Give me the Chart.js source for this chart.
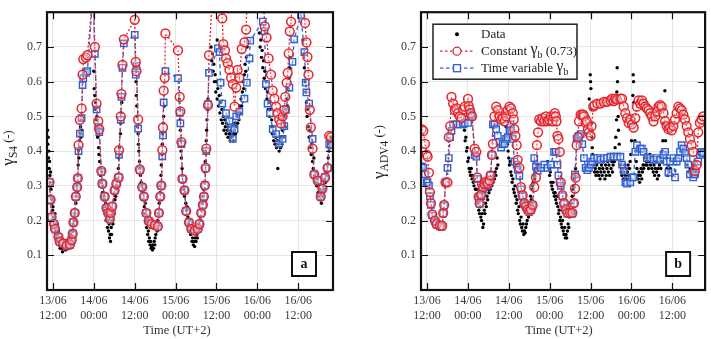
<!DOCTYPE html>
<html>
<head>
<meta charset="utf-8">
<script src="https://cdn.jsdelivr.net/npm/chart.js@4.4.1/dist/chart.umd.min.js"></script>
<style>
  body { margin: 0; background: #fff; }
  canvas { position: absolute; top: 0; }
  #ca { left: 0; }
  #cb { left: 355px; }
</style>
</head>
<body>
<canvas id="ca" width="350" height="339"></canvas>
<canvas id="cb" width="356" height="339"></canvas>
<script>
// hours counted from 13/06 00:00
const xTicks = [12, 24, 36, 48, 60, 72, 84];
const xTickLabels = [['13/06', '12:00'], ['14/06', '00:00'], ['14/06', '12:00'], ['15/06', '00:00'],
  ['15/06', '12:00'], ['16/06', '00:00'], ['16/06', '12:00']];
const yTicks = [0.1, 0.2, 0.3, 0.4, 0.5, 0.6, 0.7];

// panel a - measured gamma S4
const dataA = [
  [10.4,0.46],[10.5,0.42],[10.6,0.44],[10.7,0.38],[10.8,0.4],[10.9,0.35],[11.0,0.37],[11.1,0.33],[11.2,0.31],[11.3,0.34],
  [11.4,0.29],[11.5,0.27],[11.6,0.3],[11.7,0.25],[11.8,0.26],[11.9,0.23],[12.0,0.24],[12.1,0.21],
  [12.3,0.2],[12.5,0.18],[12.6,0.22],[12.8,0.17],[13.0,0.19],[13.1,0.15],[13.3,0.16],[13.5,0.14],[13.6,0.17],[13.8,0.13],
  [14.0,0.15],[14.1,0.12],[14.3,0.14],[14.5,0.12],[14.6,0.13],[14.8,0.11],[15.0,0.125],[15.2,0.14],[15.3,0.12],[15.5,0.13],
  [15.7,0.115],[15.9,0.14],[16.0,0.125],[16.2,0.13],[16.4,0.145],[16.5,0.12],[16.7,0.135],[16.9,0.15],[17.0,0.13],[17.2,0.16],
  [17.4,0.14],[17.5,0.17],[17.7,0.155],[17.9,0.19],[18.0,0.17],[18.2,0.2],[18.4,0.22],[18.5,0.2],[18.7,0.25],[18.8,0.27],
  [19.0,0.3],[19.1,0.28],[19.3,0.33],[19.4,0.36],[19.5,0.4],[19.6,0.38],[19.8,0.43],[19.9,0.41],[20.0,0.45],[20.1,0.47],
  [20.2,0.44],[20.4,0.49],[20.5,0.46],
  [24.0,0.63],[24.1,0.58],[24.3,0.56],[24.4,0.52],[24.5,0.54],[24.7,0.49],[24.8,0.47],[24.9,0.5],[25.1,0.44],[25.2,0.46],
  [25.4,0.41],[25.5,0.39],[25.7,0.37],[25.9,0.35],[26.0,0.33],[26.2,0.31],[26.3,0.34],
  [26.5,0.28],[26.6,0.3],[26.8,0.26],[27.0,0.27],[27.1,0.24],[27.3,0.22],[27.5,0.25],[27.6,0.2],[27.8,0.21],[28.0,0.18],
  [28.1,0.2],[28.3,0.17],[28.5,0.19],[28.6,0.15],[28.8,0.16],[28.9,0.14],[29.1,0.18],[29.2,0.16],[29.4,0.2],[29.6,0.19],
  [29.8,0.23],[30.0,0.22],[30.2,0.26],[30.4,0.27],[30.6,0.29],[30.8,0.3],[31.0,0.32],
  [31.2,0.35],[31.3,0.38],[31.5,0.41],[31.6,0.39],[31.8,0.45],[31.9,0.48],[32.0,0.51],[32.2,0.54],
  [36.4,0.6],[36.5,0.56],[36.6,0.53],[36.7,0.5],[36.8,0.47],[37.0,0.45],[37.1,0.42],[37.2,0.4],[37.4,0.37],[37.5,0.35],
  [37.7,0.33],[37.9,0.31],
  [38.1,0.3],[38.3,0.28],[38.5,0.26],[38.6,0.29],[38.8,0.24],[39.0,0.22],[39.1,0.25],[39.3,0.2],[39.5,0.18],[39.6,0.21],
  [39.8,0.16],[40.0,0.17],[40.1,0.14],[40.3,0.15],[40.5,0.13],[40.7,0.14],[40.8,0.12],[41.0,0.125],[41.2,0.115],[41.3,0.13],
  [41.5,0.12],[41.7,0.14],[41.9,0.13],[42.0,0.15],[42.2,0.16],[42.4,0.18],[42.6,0.17],[42.8,0.2],[43.0,0.22],[43.2,0.25],
  [43.4,0.28],[43.5,0.3],
  [43.7,0.33],[43.8,0.36],[44.0,0.39],[44.1,0.42],[44.2,0.45],[44.4,0.48],[44.5,0.5],[44.7,0.53],
  [49.1,0.55],[49.2,0.52],[49.3,0.49],[49.4,0.46],[49.5,0.43],[49.6,0.4],[49.7,0.38],[49.9,0.35],[50.0,0.33],
  [50.2,0.31],[50.4,0.29],[50.6,0.27],[50.8,0.28],[51.0,0.25],[51.2,0.23],[51.4,0.24],[51.6,0.21],[51.8,0.19],[52.0,0.2],
  [52.2,0.17],[52.4,0.16],[52.6,0.18],[52.8,0.14],[53.0,0.15],[53.2,0.13],[53.4,0.14],[53.6,0.125],[53.8,0.15],[54.0,0.14],
  [54.2,0.16],[54.4,0.15],[54.6,0.17],[54.8,0.19],[55.0,0.18],[55.2,0.21],[55.4,0.2],[55.6,0.23],[55.8,0.25],[56.0,0.27],
  [56.2,0.29],[56.4,0.31],
  [56.6,0.34],[56.7,0.37],[56.8,0.4],[57.0,0.43],[57.1,0.46],[57.2,0.49],[57.4,0.52],[57.5,0.55],
  [58.4,0.7],[58.6,0.66],[58.8,0.68],[59.0,0.63],[59.2,0.65],[59.4,0.6],[59.6,0.62],[59.8,0.57],[60.0,0.6],[60.2,0.55],
  [60.2,0.72],[60.4,0.58],[60.6,0.53],[60.8,0.56],[61.0,0.51],[61.0,0.7],[61.2,0.54],[61.4,0.49],[61.6,0.52],[61.8,0.48],
  [62.0,0.5],[62.2,0.46],[62.4,0.49],[62.6,0.47],[62.8,0.45],[63.0,0.48],[63.2,0.46],[63.4,0.44],[63.6,0.47],[63.8,0.45],
  [64.0,0.43],[64.2,0.46],[64.4,0.44],[64.6,0.47],[64.8,0.45],[65.0,0.43],[65.2,0.46],[65.4,0.48],[65.6,0.45],[65.8,0.47],
  [66.0,0.5],[66.2,0.48],[66.4,0.51],[66.6,0.49],[66.8,0.53],[67.0,0.51],[67.2,0.55],[67.4,0.53],[67.6,0.57],[67.8,0.6],
  [68.0,0.58],[68.2,0.62],[68.4,0.65],[68.6,0.63],[68.8,0.67],[69.0,0.7],
  [72.6,0.74],[72.8,0.7],[73.0,0.72],[73.2,0.67],[73.4,0.69],[73.6,0.64],[73.8,0.66],[74.0,0.61],[74.2,0.63],[74.4,0.58],
  [74.6,0.6],[74.8,0.55],[75.0,0.57],[75.2,0.52],[75.4,0.54],[75.6,0.5],[75.8,0.52],[76.0,0.47],[76.2,0.49],[76.4,0.45],
  [76.6,0.47],[76.8,0.43],[77.0,0.45],[77.2,0.42],[77.4,0.44],[77.6,0.41],[77.8,0.43],[78.0,0.35],[78.2,0.42],[78.4,0.4],
  [78.6,0.43],[78.8,0.41],[79.0,0.44],[79.2,0.42],[79.4,0.46],[79.6,0.44],[79.8,0.48],[80.0,0.5],[80.2,0.47],[80.4,0.52],
  [80.6,0.55],[80.8,0.53],[81.0,0.58],[81.2,0.61],[81.4,0.64],[81.6,0.67],
  [85.4,0.72],[85.6,0.68],[85.8,0.64],[86.0,0.6],[86.2,0.57],[86.4,0.54],[86.6,0.5],[86.8,0.52],[87.0,0.47],[87.2,0.44],
  [87.4,0.46],[87.6,0.41],[87.8,0.39],[88.0,0.42],[88.2,0.37],[88.4,0.35],[88.6,0.38],[88.8,0.33],[89.0,0.31],[89.2,0.34],
  [89.4,0.3],[89.6,0.32],[89.8,0.28],[90.0,0.3],[90.2,0.27],[90.4,0.29],[90.6,0.26],[90.8,0.25],[91.0,0.28],[91.2,0.27],
  [91.4,0.3],[91.6,0.29],[91.8,0.32],[92.0,0.31],[92.2,0.34],[92.4,0.33],[92.6,0.36],[92.8,0.38],[93.0,0.4],[93.2,0.42],
  [93.4,0.41],[93.6,0.44],[93.8,0.43]
];

// panel a - constant gamma_b (0.73)
const constA = [
  [11.0,0.31],[11.3,0.26],[11.6,0.21],[12.3,0.19],[12.6,0.176],[13.6,0.153],[14.0,0.139],[15.0,0.134],[16.0,0.128],[17.0,0.131],
  [17.5,0.144],[17.8,0.162],[18.0,0.195],[18.4,0.222],[18.7,0.269],[19.1,0.296],[19.3,0.322],[19.5,0.417],[19.9,0.49],[20.4,0.523],
  [20.7,0.62],[20.9,0.665],[21.7,0.669],[22.1,0.676],[23.8,0.86],[24.3,0.70],[24.8,0.537],[25.3,0.486],[25.6,0.463],[26.2,0.343],
  [26.5,0.306],[27.2,0.269],[27.7,0.236],[28.2,0.222],[28.7,0.204],[29.0,0.222],[29.4,0.241],[30.1,0.287],[30.6,0.306],[31.3,0.324],
  [31.4,0.403],[31.9,0.50],[32.1,0.565],[32.4,0.648],[32.8,0.722],[36.0,0.778],[36.3,0.657],[36.5,0.63],[37.0,0.491],[37.5,0.347],
  [38.2,0.296],[38.7,0.269],[39.4,0.222],[40.1,0.199],[40.9,0.19],[41.9,0.187],[42.8,0.183],[43.1,0.222],[43.5,0.269],[43.8,0.301],
  [44.1,0.403],[44.3,0.468],[44.5,0.574],[44.8,0.611],[45.0,0.739],[48.7,0.69],[49.2,0.556],[49.4,0.514],[49.7,0.426],[50.0,0.32],
  [50.6,0.287],[51.1,0.227],[51.9,0.195],[52.6,0.176],[53.6,0.171],[54.5,0.176],[55.0,0.19],[55.5,0.222],[56.0,0.245],[56.3,0.269],
  [56.6,0.301],[56.8,0.352],[57.0,0.407],[57.5,0.532],[57.8,0.676],[58.9,0.86],[61.5,0.86],[61.7,0.782],[62.0,0.708],[62.5,0.69],
  [62.8,0.667],[63.3,0.653],[63.8,0.634],[64.3,0.611],[64.8,0.593],[65.3,0.528],[65.8,0.583],[66.2,0.634],[66.7,0.611],[67.4,0.694],
  [68.2,0.713],[68.7,0.75],[69.0,0.86],[73.6,0.86],[74.2,0.759],[74.7,0.727],[75.3,0.667],[76.0,0.62],[76.5,0.574],[77.0,0.551],
  [77.5,0.528],[78.0,0.509],[78.4,0.491],[78.9,0.48],[79.4,0.50],[79.9,0.519],[80.2,0.556],[80.6,0.597],[80.9,0.625],[81.2,0.681],
  [81.5,0.745],[81.9,0.773],[82.3,0.86],[85.5,0.86],[86.0,0.769],[86.4,0.713],[86.7,0.671],[87.0,0.62],[87.4,0.519],[87.7,0.468],
  [88.2,0.407],[88.7,0.333],[89.7,0.315],[90.6,0.269],[91.1,0.292],[91.9,0.324],[92.6,0.352],[93.1,0.444],[93.6,0.44]
];

// panel a - time variable gamma_b
const varA = [
  [11.0,0.31],[11.3,0.26],[11.6,0.21],[12.3,0.19],[12.6,0.176],[13.6,0.153],[14.0,0.139],[15.0,0.134],[16.0,0.128],[17.0,0.131],
  [17.5,0.144],[17.8,0.162],[18.0,0.195],[18.4,0.222],[18.7,0.269],[19.1,0.296],[19.3,0.322],[19.5,0.40],[19.9,0.45],[20.4,0.495],
  [20.7,0.59],[20.9,0.61],[21.7,0.625],[22.1,0.63],[23.8,0.86],[24.3,0.68],[24.8,0.52],[25.3,0.47],[25.6,0.455],[26.2,0.34],
  [26.5,0.306],[27.2,0.269],[27.7,0.236],[28.2,0.222],[28.7,0.204],[29.0,0.222],[29.4,0.241],[30.1,0.287],[30.6,0.306],[31.3,0.324],
  [31.4,0.39],[31.9,0.49],[32.1,0.556],[32.4,0.64],[32.8,0.71],[36.0,0.735],[36.3,0.62],[36.5,0.645],[37.0,0.465],[37.5,0.345],
  [38.2,0.296],[38.7,0.269],[39.4,0.222],[40.1,0.199],[40.9,0.19],[41.9,0.187],[42.8,0.183],[43.1,0.222],[43.5,0.269],[43.8,0.30],
  [44.1,0.385],[44.3,0.445],[44.5,0.54],[45.0,0.63],[48.7,0.61],[49.2,0.51],[49.4,0.48],[49.7,0.42],[50.0,0.32],
  [50.6,0.287],[51.1,0.227],[51.9,0.195],[52.6,0.176],[53.6,0.171],[54.5,0.176],[55.0,0.19],[55.5,0.222],[56.0,0.245],[56.3,0.269],
  [56.6,0.301],[56.8,0.35],[57.0,0.40],[57.5,0.535],[57.8,0.625],[60.4,0.696],[60.9,0.685],[61.2,0.597],[61.7,0.537],[62.8,0.509],
  [63.8,0.486],[64.3,0.468],[64.8,0.435],[65.3,0.463],[65.8,0.50],[66.7,0.514],[68.2,0.551],[68.9,0.597],[69.7,0.667],[69.9,0.718],
  [73.6,0.773],[74.1,0.745],[74.5,0.593],[75.0,0.537],[75.7,0.509],[76.5,0.463],[77.5,0.449],[78.4,0.421],[79.4,0.435],[79.9,0.472],
  [80.4,0.519],[81.4,0.583],[82.3,0.657],[82.8,0.722],[84.8,0.792],[85.8,0.685],[86.2,0.597],[86.4,0.569],[87.2,0.537],[88.2,0.435],
  [88.7,0.333],[89.7,0.315],[90.6,0.269],[91.1,0.292],[91.9,0.324],[92.6,0.352],[93.1,0.42],[93.6,0.417]
];

// panel b - measured gamma ADV4
const dataB = [
  [23.0,0.46],[23.2,0.43],[23.4,0.44],[23.6,0.4],[23.8,0.41],[24.0,0.37],[24.2,0.38],[24.4,0.35],[24.6,0.34],[24.8,0.33],
  [25.0,0.35],[25.2,0.32],[25.4,0.33],[25.6,0.31],[25.8,0.3],[26.0,0.32],[26.2,0.29],[26.4,0.27],[26.6,0.29],[26.8,0.25],
  [27.0,0.26],[27.2,0.23],[27.4,0.22],[27.6,0.24],[27.8,0.21],[28.0,0.2],[28.2,0.22],[28.4,0.18],[28.6,0.19],[28.8,0.23],
  [29.0,0.22],[29.2,0.25],[29.4,0.24],[29.6,0.27],[29.8,0.26],[30.0,0.29],[30.2,0.28],[30.4,0.3],[30.6,0.29],[30.8,0.31],
  [31.0,0.3],[31.2,0.32],[31.4,0.31],[31.6,0.33],[31.8,0.32],[32.0,0.34],[32.2,0.33],[32.4,0.35],[32.6,0.38],[32.8,0.36],
  [35.2,0.47],[35.4,0.44],[35.6,0.42],[35.8,0.4],[36.0,0.38],[36.2,0.36],[36.4,0.37],[36.6,0.34],[36.8,0.33],[37.0,0.31],
  [37.2,0.32],[37.4,0.29],[37.6,0.28],[37.8,0.3],[38.0,0.27],[38.2,0.25],[38.4,0.26],[38.6,0.23],[38.8,0.22],[39.0,0.24],
  [39.2,0.2],[39.4,0.19],[39.6,0.21],[39.8,0.18],[40.0,0.17],[40.2,0.19],[40.4,0.16],[40.6,0.17],[40.8,0.165],[41.0,0.18],
  [41.2,0.19],[41.4,0.2],[41.6,0.22],[41.8,0.21],[42.0,0.24],[42.2,0.25],[42.4,0.27],[42.6,0.26],[42.8,0.29],[43.0,0.3],
  [43.2,0.31],[43.4,0.33],[43.6,0.32],[43.8,0.34],[44.0,0.35],[44.2,0.36],
  [47.4,0.37],[47.6,0.36],[47.8,0.35],[48.0,0.33],[48.2,0.34],[48.4,0.31],[48.6,0.3],[48.8,0.29],[49.0,0.31],[49.2,0.28],
  [49.4,0.27],[49.6,0.28],[49.8,0.26],[50.0,0.25],[50.2,0.27],[50.4,0.24],[50.6,0.22],[50.8,0.23],[51.0,0.2],[51.2,0.21],
  [51.4,0.19],[51.6,0.18],[51.8,0.2],[52.0,0.17],[52.2,0.16],[52.4,0.18],[52.6,0.15],[52.8,0.16],[53.0,0.15],[53.2,0.17],
  [53.4,0.19],[53.6,0.18],[53.8,0.21],[54.0,0.23],[54.2,0.22],[54.4,0.25],[54.6,0.27],[54.8,0.29],[55.0,0.3],[55.2,0.32],
  [55.4,0.33],[55.6,0.35],
  [58.8,0.45],[59.2,0.5],[59.6,0.55],[59.9,0.62],[60.0,0.6],[60.1,0.58],[60.2,0.52],[60.3,0.48],[60.4,0.44],[60.5,0.41],
  [60.6,0.39],[60.8,0.36],[61.0,0.37],[61.2,0.34],[61.4,0.35],[61.6,0.33],[61.8,0.36],[62.0,0.34],[62.2,0.37],[62.4,0.33],
  [62.6,0.35],[62.8,0.32],[63.0,0.34],[63.2,0.36],[63.4,0.33],[63.6,0.35],[63.8,0.37],[64.0,0.34],[64.2,0.32],[64.4,0.36],
  [64.6,0.33],[64.8,0.35],[65.0,0.37],[65.2,0.34],[65.4,0.36],[65.6,0.33],[65.8,0.38],[66.0,0.35],[66.2,0.37],[66.4,0.34],
  [66.6,0.36],[66.8,0.39],[67.0,0.37],[67.2,0.41],[67.4,0.44],[67.6,0.49],[67.7,0.57],[67.8,0.64],[67.9,0.6],[68.0,0.54],
  [68.1,0.5],[68.2,0.46],[68.4,0.42],[68.6,0.39],[68.8,0.36],[69.0,0.34],[69.2,0.33],[69.4,0.35],[69.6,0.32],[69.8,0.34],
  [70.0,0.36],[70.2,0.33],[70.4,0.35],[70.6,0.32],[70.8,0.34],[71.0,0.36],[71.2,0.33],[71.4,0.35],[71.6,0.37],[71.8,0.39],
  [72.0,0.43],[72.2,0.5],[72.4,0.56],[72.5,0.62],[72.6,0.6],[72.7,0.54],[72.8,0.48],[73.0,0.43],[73.2,0.4],[73.4,0.37],
  [73.6,0.35],[73.8,0.33],[74.0,0.32],[74.2,0.34],[74.4,0.31],[74.6,0.33],[74.8,0.35],[75.0,0.32],[75.2,0.34],[75.4,0.36],
  [75.6,0.35],[75.8,0.38],[76.0,0.36],[76.2,0.39],[76.4,0.37],[76.6,0.36],[76.8,0.38],[77.0,0.35],[77.2,0.37],[77.4,0.39],
  [77.6,0.36],[77.8,0.38],[78.0,0.35],[78.2,0.37],[78.4,0.34],[78.6,0.36],[78.8,0.33],[79.0,0.35],[79.2,0.37],[79.4,0.34],
  [79.6,0.32],[79.8,0.35],[80.0,0.33],[80.2,0.36],[80.4,0.38],[80.6,0.35],[80.8,0.37],[81.0,0.4],[81.2,0.43],[81.4,0.48],
  [81.6,0.52],[81.8,0.574],[82.0,0.43],[82.2,0.38],[82.4,0.35],[82.6,0.33],[82.8,0.36],[83.0,0.34],[83.4,0.35],[84.0,0.33],
  [88.4,0.36],[88.8,0.34],[89.2,0.35],[89.6,0.33],[90.0,0.35],[90.4,0.36],[90.8,0.34],[91.2,0.33]
];

// panel b - constant gamma_b (0.73)
const constB = [
  [10.45,0.463],[10.93,0.458],[11.42,0.421],[11.9,0.39],[12.19,0.384],[12.58,0.338],[12.87,0.282],[13.17,0.25],[13.55,0.218],[14.33,0.2],
  [14.82,0.19],[15.79,0.185],[16.47,0.185],[16.76,0.222],[17.05,0.245],[17.44,0.31],[18.02,0.31],[18.41,0.44],[18.8,0.472],[19.19,0.556],
  [19.68,0.537],[20.16,0.518],[20.65,0.523],[21.13,0.509],[21.62,0.5],[22.11,0.495],[22.6,0.52],[23.08,0.528],[24.05,0.55],[24.24,0.53],
  [24.53,0.52],[24.83,0.509],[25.22,0.5],[25.99,0.407],[26.48,0.398],[26.77,0.324],[27.16,0.269],[27.45,0.25],[27.94,0.275],[28.42,0.296],
  [28.91,0.306],[29.39,0.312],[29.88,0.306],[30.37,0.315],[30.66,0.33],[31.05,0.389],[31.34,0.421],[31.82,0.5],[32.31,0.528],[32.79,0.518],
  [33.28,0.5],[33.77,0.491],[34.25,0.495],[34.74,0.486],[35.22,0.5],[35.71,0.518],[36.2,0.528],[36.68,0.523],[37.17,0.509],[37.46,0.491],
  [37.65,0.463],[37.94,0.444],[38.33,0.417],[38.62,0.375],[39.11,0.352],[39.6,0.296],[40.08,0.273],[40.57,0.25],[41.05,0.241],[41.54,0.232],
  [42.03,0.227],[42.51,0.232],[43.0,0.245],[43.48,0.296],[43.97,0.324],[44.26,0.417],[44.6,0.454],[44.94,0.491],[45.43,0.486],[45.91,0.495],
  [46.4,0.486],[46.88,0.5],[47.37,0.486],[47.86,0.49],[48.34,0.5],[48.83,0.486],[49.12,0.5],[49.51,0.509],[49.8,0.5],[49.99,0.486],
  [50.28,0.444],[50.57,0.435],[50.96,0.398],[51.25,0.31],[51.74,0.273],[52.23,0.25],[52.7,0.232],[53.2,0.222],[53.98,0.222],[54.66,0.222],
  [55.14,0.25],[55.44,0.292],[55.63,0.324],[55.92,0.417],[56.31,0.44],[56.6,0.486],[57.09,0.505],[57.57,0.505],[57.86,0.505],[58.06,0.5],
  [58.54,0.481],[58.83,0.486],[59.22,0.463],[59.51,0.454],[60.0,0.444],[60.29,0.472],[60.78,0.528],[61.17,0.532],[61.95,0.537],[62.92,0.537],
  [63.89,0.542],[64.86,0.542],[65.83,0.546],[66.32,0.551],[66.81,0.544],[67.29,0.551],[67.78,0.548],[68.75,0.551],[69.23,0.551],[69.72,0.528],
  [70.21,0.509],[70.69,0.495],[71.18,0.481],[71.66,0.491],[72.15,0.477],[72.63,0.468],[73.12,0.495],[73.61,0.528],[74.09,0.546],[74.58,0.537],
  [75.06,0.546],[75.55,0.537],[76.03,0.528],[76.52,0.523],[77.01,0.518],[77.49,0.509],[77.98,0.5],[78.46,0.486],[78.95,0.5],[79.44,0.514],
  [79.92,0.528],[80.41,0.532],[80.89,0.528],[81.38,0.509],[81.87,0.486],[82.35,0.472],[82.84,0.463],[83.32,0.468],[83.81,0.46],[84.29,0.472],
  [84.78,0.491],[85.27,0.509],[85.75,0.528],[86.24,0.523],[86.72,0.518],[87.21,0.505],[87.7,0.491],[88.18,0.472],[88.67,0.454],[89.15,0.435],
  [89.64,0.417],[90.12,0.398],[90.61,0.343],[91.1,0.36],[91.58,0.454],[92.07,0.481],[92.55,0.491],[93.04,0.5]
];

// panel b - time variable gamma_b
const varB = [
  [10.45,0.356],[10.93,0.352],[11.42,0.333],[11.9,0.31],[12.19,0.31],[12.58,0.3],[12.87,0.27],[13.17,0.245],[13.55,0.215],[14.33,0.198],
  [14.82,0.188],[15.79,0.183],[16.47,0.183],[16.76,0.22],[17.05,0.243],[17.44,0.31],[18.02,0.352],[18.41,0.38],[18.8,0.44],[19.19,0.458],
  [19.68,0.477],[20.65,0.477],[21.62,0.477],[22.6,0.477],[23.08,0.48],[24.05,0.481],[24.53,0.509],[24.83,0.505],[25.22,0.5],[25.99,0.389],
  [26.48,0.384],[26.77,0.32],[27.16,0.267],[27.45,0.248],[27.94,0.27],[28.42,0.29],[28.91,0.3],[29.39,0.31],[29.88,0.3],[30.37,0.31],
  [30.66,0.33],[31.05,0.389],[31.34,0.477],[31.82,0.477],[32.31,0.463],[32.79,0.444],[33.28,0.426],[33.77,0.41],[34.25,0.42],[34.74,0.421],
  [35.22,0.435],[35.71,0.44],[36.2,0.458],[36.48,0.477],[36.68,0.46],[37.17,0.435],[37.65,0.37],[38.33,0.361],[38.62,0.347],[39.11,0.329],
  [39.6,0.29],[40.08,0.27],[40.57,0.248],[41.05,0.24],[41.54,0.23],[42.03,0.225],[42.51,0.23],[43.0,0.243],[43.48,0.38],[43.97,0.356],
  [44.46,0.343],[45.43,0.352],[46.4,0.361],[47.37,0.352],[48.34,0.361],[49.31,0.398],[49.8,0.398],[50.28,0.361],[50.57,0.33],[50.96,0.31],
  [51.25,0.3],[51.74,0.27],[52.23,0.248],[52.7,0.23],[53.2,0.22],[53.98,0.22],[54.66,0.22],[55.14,0.25],[55.44,0.333],[55.92,0.435],
  [56.31,0.44],[56.6,0.444],[57.09,0.449],[57.57,0.42],[58.06,0.38],[58.54,0.352],[59.03,0.345],[59.51,0.352],[60.0,0.361],[60.49,0.37],
  [61.0,0.38],[61.95,0.38],[62.92,0.375],[63.89,0.38],[64.86,0.38],[65.83,0.384],[66.81,0.384],[67.78,0.384],[68.75,0.384],[69.23,0.361],
  [69.72,0.343],[70.21,0.31],[70.69,0.306],[71.66,0.31],[72.15,0.324],[72.63,0.324],[73.12,0.398],[73.61,0.417],[74.58,0.407],[75.06,0.407],
  [75.55,0.398],[76.52,0.38],[77.49,0.38],[78.46,0.375],[79.44,0.38],[80.41,0.375],[81.38,0.389],[81.87,0.398],[82.35,0.37],[82.84,0.338],
  [83.32,0.37],[84.29,0.38],[84.78,0.324],[85.27,0.37],[85.75,0.38],[86.24,0.398],[86.72,0.417],[87.21,0.407],[87.7,0.394],[88.18,0.38],
  [88.67,0.361],[89.15,0.333],[90.12,0.324],[90.61,0.333],[91.58,0.37],[92.07,0.389],[92.55,0.398],[93.04,0.394]
];

const RED = '#e3262d';
const BLUE = '#2f5fd0';
const FONT = '"Liberation Serif", "Times New Roman", serif';

function toPts(arr) {
  return arr.map(p => ({x: p[0], y: p[1]}));
}

// draws text pieces one after another, some lowered as subscripts
function drawRuns(ctx, runs, x, y) {
  let cx = x;
  runs.forEach(r => {
    ctx.font = r.size + 'px ' + FONT;
    ctx.fillText(r.t, cx, y + (r.dy || 0));
    cx += ctx.measureText(r.t).width;
  });
  return cx;
}
function runsWidth(ctx, runs) {
  let w = 0;
  runs.forEach(r => { ctx.font = r.size + 'px ' + FONT; w += ctx.measureText(r.t).width; });
  return w;
}

const decor = {
  id: 'decor',
  afterDraw(chart, args, o) {
    const ctx = chart.ctx, a = chart.chartArea;
    const xs = chart.scales.x, ys = chart.scales.y;
    ctx.save();
    // inward tick marks
    ctx.strokeStyle = '#111';
    ctx.lineWidth = 1.2;
    ctx.beginPath();
    xTicks.forEach(v => {
      const px = Math.round(xs.getPixelForValue(v)) + 0.5;
      ctx.moveTo(px, a.bottom); ctx.lineTo(px, a.bottom - 7);
      ctx.moveTo(px, a.top); ctx.lineTo(px, a.top + 7);
    });
    yTicks.forEach(v => {
      const py = Math.round(ys.getPixelForValue(v)) + 0.5;
      ctx.moveTo(a.left, py); ctx.lineTo(a.left + 7, py);
      ctx.moveTo(a.right, py); ctx.lineTo(a.right - 7, py);
    });
    ctx.stroke();
    // frame
    ctx.lineWidth = 2.2;
    ctx.strokeRect(a.left, a.top, a.right - a.left, a.bottom - a.top);

    // panel letter
    const bx = a.right - o.boxRight - 24, by = a.bottom - 14 - 24;
    ctx.fillStyle = '#fff';
    ctx.fillRect(bx, by, 24, 24);
    ctx.lineWidth = 2;
    ctx.strokeRect(bx, by, 24, 24);
    ctx.fillStyle = '#111';
    ctx.font = 'bold 14px ' + FONT;
    ctx.textAlign = 'center';
    ctx.textBaseline = 'middle';
    ctx.fillText(o.letter, bx + 12, by + 12.5);

    // x title
    ctx.fillStyle = '#333';
    ctx.font = '12.5px ' + FONT;
    ctx.fillText('Time (UT+2)', o.xTitleX, 331);

    // y title, rotated
    ctx.textAlign = 'left';
    ctx.textBaseline = 'alphabetic';
    ctx.fillStyle = '#222';
    const runs = [{t: '\u03B3', size: 17}, {t: o.sub, size: 11.5, dy: 4}, {t: ' (-)', size: 12.5, dy: -1}];
    const tw = runsWidth(ctx, runs);
    ctx.save();
    ctx.translate(o.yTitleX, o.yTitleY);
    ctx.rotate(-Math.PI / 2);
    drawRuns(ctx, runs, -tw / 2, 0);
    ctx.restore();

    // legend
    if (o.legend) {
      const lx = a.left + 12, ly = a.top + 12;
      ctx.fillStyle = '#fff';
      ctx.fillRect(lx, ly, 144, 55);
      ctx.strokeStyle = '#222';
      ctx.lineWidth = 1.5;
      ctx.strokeRect(lx, ly, 144, 55);
      const mx = lx + 24, tx = lx + 48;
      const rows = [ly + 10, ly + 27, ly + 44];
      // data dot
      ctx.fillStyle = '#000';
      ctx.beginPath(); ctx.arc(mx, rows[0], 2, 0, Math.PI * 2); ctx.fill();
      // red dotted line with circle
      ctx.lineWidth = 1.3;
      ctx.strokeStyle = RED;
      ctx.setLineDash([2.5, 2.5]);
      ctx.beginPath(); ctx.moveTo(lx + 7, rows[1]); ctx.lineTo(lx + 41, rows[1]); ctx.stroke();
      ctx.setLineDash([]);
      ctx.fillStyle = '#fff';
      ctx.beginPath(); ctx.arc(mx, rows[1], 4, 0, Math.PI * 2); ctx.fill(); ctx.stroke();
      // blue dashed with square
      ctx.strokeStyle = BLUE;
      ctx.setLineDash([3.5, 2.5]);
      ctx.beginPath(); ctx.moveTo(lx + 7, rows[2]); ctx.lineTo(lx + 41, rows[2]); ctx.stroke();
      ctx.setLineDash([]);
      ctx.fillRect(mx - 3.5, rows[2] - 3.5, 7, 7);
      ctx.strokeRect(mx - 3.5, rows[2] - 3.5, 7, 7);
      // texts
      ctx.fillStyle = '#222';
      ctx.textBaseline = 'middle';
      drawRuns(ctx, [{t: 'Data', size: 13}], tx, rows[0]);
      drawRuns(ctx, [{t: 'Constant ', size: 13}, {t: '\u03B3', size: 16, dy: -1}, {t: 'b', size: 10, dy: 4}, {t: ' (0.73)', size: 13}], tx, rows[1]);
      drawRuns(ctx, [{t: 'Time variable ', size: 13}, {t: '\u03B3', size: 16, dy: -1}, {t: 'b', size: 10, dy: 4}], tx, rows[2]);
    }
    ctx.restore();
  }
};

function makeChart(id, black, red, blue, xMax, yAxisWidth, padRight, deco) {
  return new Chart(document.getElementById(id), {
    type: 'scatter',
    data: {
      datasets: [
        {
          label: 'Constant',
          data: toPts(red),
          showLine: true,
          borderColor: RED,
          borderWidth: 1.3,
          borderDash: [2, 2],
          pointStyle: 'circle',
          pointRadius: 4.4,
          pointBorderWidth: 1.5,
          pointBorderColor: RED,
          pointBackgroundColor: 'rgba(255,235,235,0.3)',
          order: 1
        },
        {
          label: 'Time variable',
          data: toPts(blue),
          showLine: true,
          borderColor: BLUE,
          borderWidth: 1.3,
          borderDash: [4, 3],
          pointStyle: 'rect',
          pointRadius: 4.5,
          pointBorderWidth: 1.4,
          pointBorderColor: BLUE,
          pointBackgroundColor: 'rgba(235,240,255,0.4)',
          order: 2
        },
        {
          label: 'Data',
          data: toPts(black),
          pointRadius: 1.7,
          pointBackgroundColor: '#000',
          pointBorderWidth: 0,
          order: 3
        }
      ]
    },
    options: {
      responsive: false,
      animation: false,
      layout: { padding: { left: 0, right: padRight, top: 3, bottom: 0 } },
      plugins: {
        legend: { display: false },
        tooltip: { enabled: false },
        decor: deco
      },
      scales: {
        x: {
          type: 'linear',
          min: 10.25,
          max: xMax,
          afterBuildTicks: axis => { axis.ticks = xTicks.map(v => ({value: v})); },
          afterFit: axis => { axis.height = 49; },
          grid: { color: '#e6e6e6', drawTicks: false },
          border: { display: false },
          ticks: {
            padding: 4,
            color: '#3a3a3a',
            font: { family: FONT, size: 12 },
            maxRotation: 0,
            callback: (v) => xTickLabels[xTicks.indexOf(v)] || ''
          }
        },
        y: {
          type: 'linear',
          min: 0,
          max: 0.8,
          afterBuildTicks: axis => { axis.ticks = yTicks.map(v => ({value: v})); },
          afterFit: axis => { axis.width = yAxisWidth; },
          grid: { color: '#e6e6e6', drawTicks: false },
          border: { display: false },
          ticks: {
            padding: 5,
            color: '#3a3a3a',
            font: { family: FONT, size: 12 },
            callback: v => v.toFixed(1)
          }
        }
      }
    },
    plugins: [decor]
  });
}

makeChart('ca', dataA, constA, varA, 94.2, 47, 17,
  { letter: 'a', boxRight: 17, xTitleX: 177, yTitleX: 13, yTitleY: 148, sub: 'S4', legend: false });
makeChart('cb', dataB, constB, varB, 93.6, 66, 4,
  { letter: 'b', boxRight: 15, xTitleX: 204, yTitleX: 29, yTitleY: 152, sub: 'ADV4', legend: true });
</script>
</body>
</html>
